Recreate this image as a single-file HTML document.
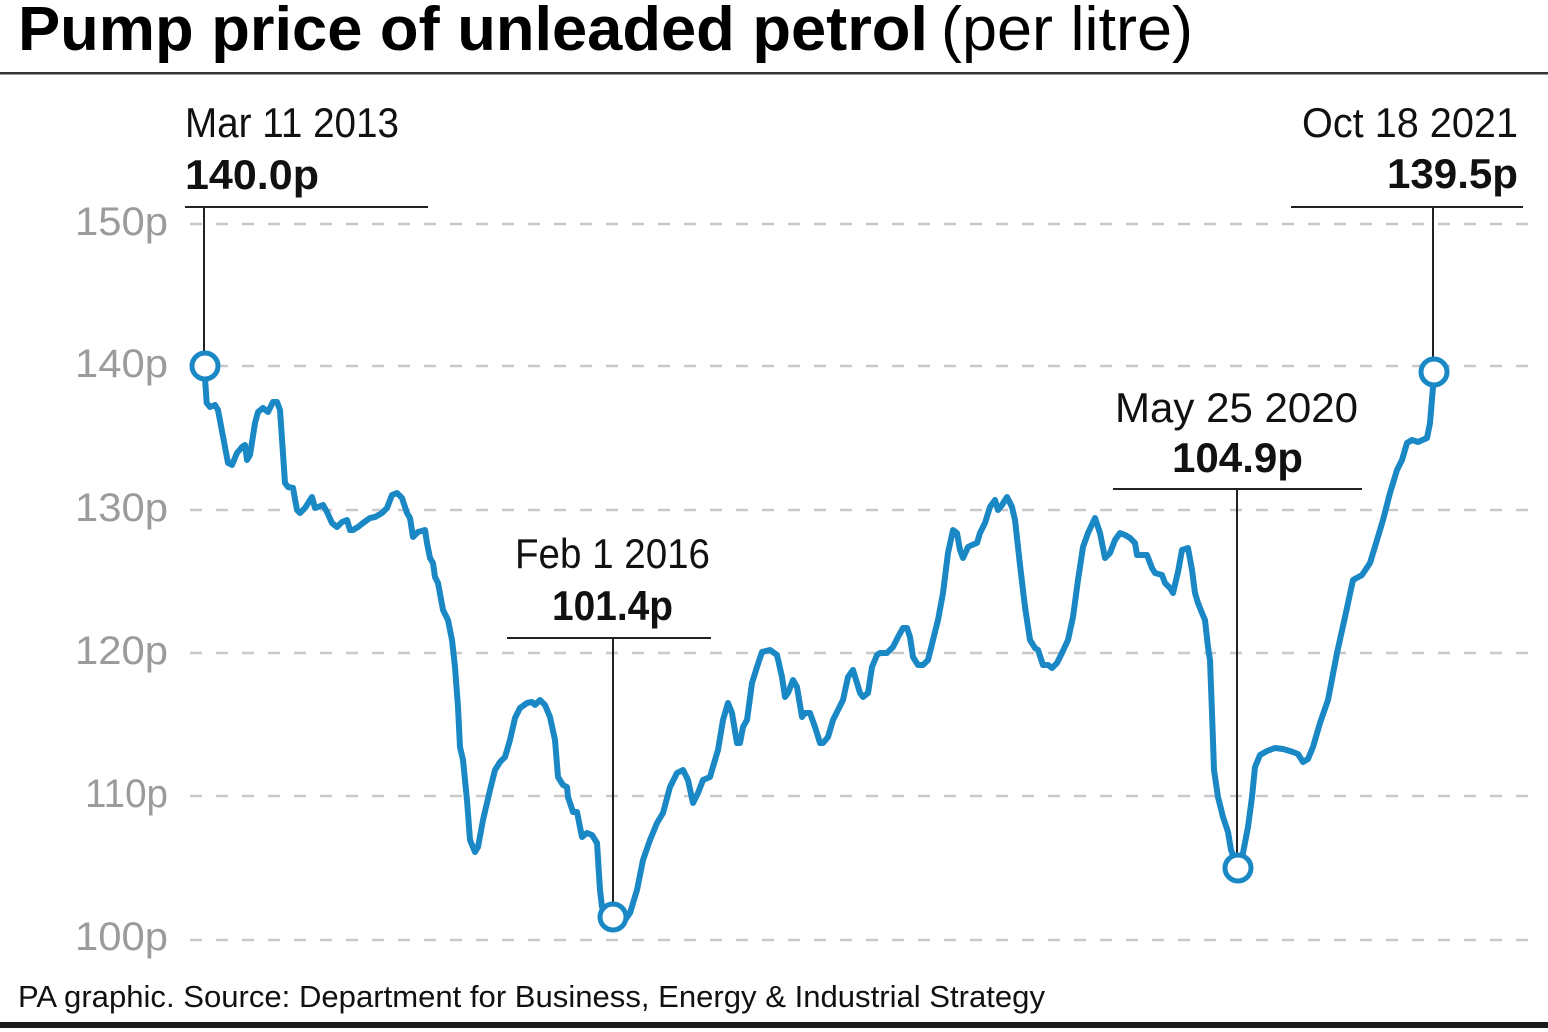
<!DOCTYPE html>
<html>
<head>
<meta charset="utf-8">
<style>
  html, body { margin:0; padding:0; background:#fff; }
  body { width:1548px; height:1032px; overflow:hidden; }
  svg { display:block; }
  text { font-family: "Liberation Sans", Arial, sans-serif; }
</style>
</head>
<body>
<svg width="1548" height="1032" viewBox="0 0 1548 1032" xmlns="http://www.w3.org/2000/svg">
  <rect x="0" y="0" width="1548" height="1032" fill="#ffffff"/>

  <!-- Title -->
  <text x="18" y="50" font-size="62" font-weight="bold" fill="#000" textLength="910" lengthAdjust="spacingAndGlyphs">Pump price of unleaded petrol</text>
  <text x="941" y="50" font-size="62" fill="#000" textLength="252" lengthAdjust="spacingAndGlyphs">(per litre)</text>
  <rect x="0" y="72" width="1548" height="2.5" fill="#333"/>

  <!-- Grid lines -->
  <g stroke="#c8c8c8" stroke-width="2.5" stroke-dasharray="12 14" fill="none">
    <line x1="190" y1="224" x2="1530" y2="224"/>
    <line x1="190" y1="366" x2="1530" y2="366"/>
    <line x1="190" y1="510" x2="1530" y2="510"/>
    <line x1="190" y1="653" x2="1530" y2="653"/>
    <line x1="190" y1="796" x2="1530" y2="796"/>
    <line x1="190" y1="940" x2="1530" y2="940"/>
  </g>

  <!-- Y axis labels -->
  <g font-size="40" fill="#9b9b9b">
    <text x="75" y="235" textLength="93" lengthAdjust="spacingAndGlyphs">150p</text>
    <text x="75" y="377" textLength="93" lengthAdjust="spacingAndGlyphs">140p</text>
    <text x="75" y="521" textLength="93" lengthAdjust="spacingAndGlyphs">130p</text>
    <text x="75" y="664" textLength="93" lengthAdjust="spacingAndGlyphs">120p</text>
    <text x="85" y="807" textLength="83" lengthAdjust="spacingAndGlyphs">110p</text>
    <text x="75" y="950" textLength="93" lengthAdjust="spacingAndGlyphs">100p</text>
  </g>

  <!-- Leader lines -->
  <g stroke="#222" stroke-width="2" fill="none">
    <line x1="185" y1="207" x2="428" y2="207"/>
    <line x1="204" y1="207" x2="204" y2="352"/>
    <line x1="507" y1="638" x2="711" y2="638"/>
    <line x1="613" y1="638" x2="613" y2="904"/>
    <line x1="1113" y1="489" x2="1362" y2="489"/>
    <line x1="1237" y1="489" x2="1237" y2="855"/>
    <line x1="1291" y1="207" x2="1523" y2="207"/>
    <line x1="1433" y1="207" x2="1433" y2="359"/>
  </g>

  <!-- Annotation text -->
  <g fill="#111">
    <text x="185" y="137" font-size="42" textLength="214" lengthAdjust="spacingAndGlyphs">Mar 11 2013</text>
    <text x="185" y="189" font-size="42" font-weight="bold" textLength="134" lengthAdjust="spacingAndGlyphs">140.0p</text>

    <text x="515" y="568" font-size="42" textLength="195" lengthAdjust="spacingAndGlyphs">Feb 1 2016</text>
    <text x="552" y="620" font-size="42" font-weight="bold" textLength="121" lengthAdjust="spacingAndGlyphs">101.4p</text>

    <text x="1115" y="422" font-size="42" textLength="243" lengthAdjust="spacingAndGlyphs">May 25 2020</text>
    <text x="1172" y="472" font-size="42" font-weight="bold" textLength="131" lengthAdjust="spacingAndGlyphs">104.9p</text>

    <text x="1302" y="137" font-size="42" textLength="216" lengthAdjust="spacingAndGlyphs">Oct 18 2021</text>
    <text x="1387" y="188" font-size="42" font-weight="bold" textLength="131" lengthAdjust="spacingAndGlyphs">139.5p</text>
  </g>

  <!-- Data line -->
  <polyline fill="none" stroke="#1b88c6" stroke-width="6" stroke-linejoin="round" stroke-linecap="round" points="
205,366 205,378 206.7,403 210,407 215,405 218,410 228,463 232,465 237,453 242,447 245,445 247,460 250,455
255,423 258,412 263,408 268,412 273,402 277,402 280,410 285,483 288,487 293,488 297,510 300,513 305,508
312,497 315,508 318,507 323,505 327,512 332,523 337,527 342,522 347,520 350,530 353,530 358,527 363,523
370,518 375,517 382,513 387,508 392,495 397,493 402,498 407,513 410,518 413,537 418,532 425,530 427,543
430,558 433,563 435,577 438,583 443,610 448,620 452,640 455,667 458,707 460,747 463,760 467,800 470,840
475,852 478,847 483,820 490,790 495,770 500,762 505,757 510,740 515,718 520,708 527,703 532,702 535,705
540,700 545,705 550,717 555,740 558,777 563,785 567,787 568,797 573,812 577,812 582,837 587,833 592,835
597,843 600,890 602,907 613,917 625,920 630,913 637,890 643,860 650,840 657,823 663,813 670,787 677,773
683,770 688,780 693,803 698,793 703,780 710,777 715,760 718,750 723,720 728,703 732,713 737,743 740,743
743,727 747,720 752,683 757,667 762,652 770,650 777,655 782,677 785,697 788,693 793,680 797,687 802,717
805,713 810,713 815,727 820,743 823,743 828,737 833,720 838,710 843,700 848,677 853,670 857,683 860,693
863,697 868,693 872,667 877,655 880,653 887,653 893,647 898,637 903,628 907,628 910,637 913,657 918,665
923,665 928,660 933,640 938,620 943,593 948,553 953,530 957,533 960,550 963,558 968,547 972,545 977,543
980,533 985,523 990,507 995,500 998,510 1002,505 1007,497 1012,507 1015,520 1020,565 1025,607 1030,640
1035,648 1038,650 1043,665 1048,665 1052,668 1057,663 1062,653 1068,640 1073,617 1078,580 1083,547
1088,533 1095,518 1100,533 1105,558 1110,553 1115,540 1120,533 1125,535 1130,538 1135,543 1137,555
1142,555 1147,555 1152,568 1155,573 1162,575 1165,583 1170,588 1173,593 1178,572 1182,550 1188,548
1192,570 1195,593 1198,603 1202,613 1205,620 1208,647 1210,660 1212,713 1214,770 1218,797 1223,817
1228,832 1231,850 1238,868 1243,853 1248,827 1252,797 1255,767 1260,755 1267,751 1275,748 1283,749
1293,752 1298,754 1303,762 1308,759 1313,747 1320,723 1328,700 1337,653 1345,617 1353,580 1362,575
1370,563 1377,540 1383,520 1390,493 1397,470 1402,460 1407,443 1412,440 1418,442 1427,438 1430,423
1433,387 1434,372"/>

  <!-- Markers -->
  <g fill="#fff" stroke="#1b88c6" stroke-width="5">
    <circle cx="205" cy="366" r="13"/>
    <circle cx="613" cy="917" r="13"/>
    <circle cx="1238" cy="868" r="13"/>
    <circle cx="1434" cy="372" r="13"/>
  </g>

  <!-- Footer -->
  <text x="18" y="1007" font-size="31" fill="#111" textLength="1027" lengthAdjust="spacingAndGlyphs">PA graphic. Source: Department for Business, Energy &amp; Industrial Strategy</text>
  <rect x="0" y="1022" width="1548" height="6" fill="#1a1a1a"/>
</svg>
</body>
</html>
